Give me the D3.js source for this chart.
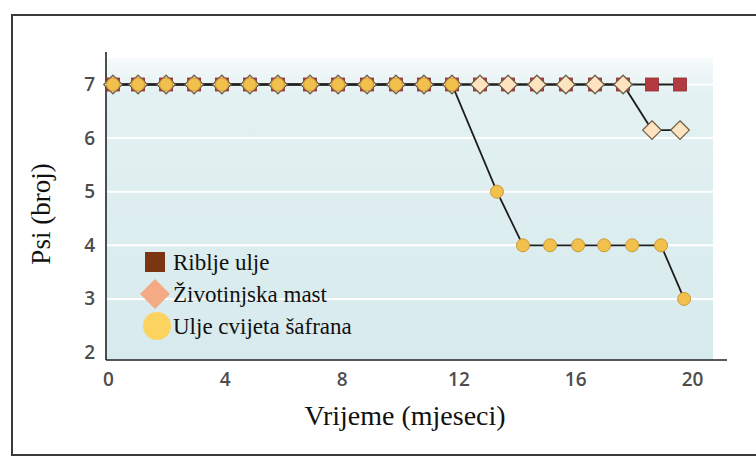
<!DOCTYPE html>
<html>
<head>
<meta charset="utf-8">
<script src="https://cdn.jsdelivr.net/npm/d3@7"></script>
<style>
  html, body { margin: 0; padding: 0; background: #ffffff; }
  svg { display: block; }
  .serif { font-family: "Liberation Serif", "Times New Roman", "DejaVu Serif", serif; }
  .tick text { font-family: "Open Sans", "Liberation Sans", sans-serif; }
</style>
</head>
<body>
<svg id="chart" width="756" height="461"></svg>
<script>
// ---- data ----
const xTickValues = [0, 4, 8, 12, 16, 20];
const yTickValues = [2, 3, 4, 5, 6, 7];
const gridValues = [3, 4, 5, 6, 7];

const seriesNames = ["Riblje ulje", "Životinjska mast", "Ulje cvijeta šafrana"];

// Fish oil (squares)
const fishOilMonths = [0.17, 1.03, 1.99, 2.95, 3.90, 4.86, 5.82, 6.92, 7.88, 8.87, 9.86, 10.82, 11.78, 12.74, 13.70, 14.69, 15.68, 16.68, 17.64, 18.63, 19.59];
const fishOilDogs   = [7, 7, 7, 7, 7, 7, 7, 7, 7, 7, 7, 7, 7, 7, 7, 7, 7, 7, 7, 7, 7];

// Animal fat (diamonds)
const animalFatMonths = [0.17, 1.03, 1.99, 2.95, 3.90, 4.86, 5.82, 6.92, 7.88, 8.87, 9.86, 10.82, 11.78, 12.74, 13.70, 14.69, 15.68, 16.68, 17.64, 18.63, 19.59];
const animalFatDogs   = [7, 7, 7, 7, 7, 7, 7, 7, 7, 7, 7, 7, 7, 7, 7, 7, 7, 7, 7, 6.15, 6.15];

// Safflower oil (circles)
const safflowerMonths = [0.17, 1.03, 1.99, 2.95, 3.90, 4.86, 5.82, 6.92, 7.88, 8.87, 9.86, 10.82, 11.78, 13.32, 14.21, 15.14, 16.10, 16.99, 17.95, 18.94, 19.73];
const safflowerDogs   = [7, 7, 7, 7, 7, 7, 7, 7, 7, 7, 7, 7, 7, 5, 4, 4, 4, 4, 4, 4, 3];

const xTitle = "Vrijeme (mjeseci)";
const yTitle = "Psi (broj)";

// ---- drawing ----
const svg = d3.select("#chart");

const x = d3.scaleLinear().domain([0, 20]).range([108, 692]);
const y = d3.scaleLinear().domain([2, 7]).range([352.5, 84.5]);

const panel = { left: 106, right: 713, top: 58, bottom: 360 };

// outer frame
svg.append("rect")
  .attr("x", 12).attr("y", 15).attr("width", 800).attr("height", 440)
  .attr("fill", "none").attr("stroke", "#3a3a3a").attr("stroke-width", 2);

const defs = svg.append("defs");
const grad = defs.append("linearGradient").attr("id", "bg").attr("x1", 0).attr("y1", 0).attr("x2", 0).attr("y2", 1);
grad.append("stop").attr("offset", "0%").attr("stop-color", "#f6fafa");
grad.append("stop").attr("offset", "12%").attr("stop-color", "#e3f1f2");
grad.append("stop").attr("offset", "100%").attr("stop-color", "#d7eaed");

svg.append("rect")
  .attr("x", panel.left).attr("y", panel.top)
  .attr("width", panel.right - panel.left).attr("height", panel.bottom - panel.top)
  .attr("fill", "url(#bg)");

// gridlines
svg.append("g").selectAll("line").data(gridValues).join("line")
  .attr("x1", panel.left).attr("x2", panel.right)
  .attr("y1", d => y(d)).attr("y2", d => y(d))
  .attr("stroke", "#ffffff").attr("stroke-width", 2);

// axes
const xAxis = d3.axisBottom(x).tickValues(xTickValues).tickSize(0).tickPadding(13).tickFormat(d3.format("d"));
const gx = svg.append("g").attr("transform", `translate(0,${panel.bottom})`).call(xAxis);
gx.select(".domain").remove();
gx.selectAll("text").attr("font-size", 19).attr("font-weight", 600).attr("fill", "#4d4d4d");

const yAxis = d3.axisLeft(y).tickValues(yTickValues).tickSize(0).tickPadding(11).tickFormat(d3.format("d"));
const gy = svg.append("g").attr("transform", `translate(${panel.left},0)`).call(yAxis);
gy.select(".domain").remove();
gy.selectAll("text").attr("font-size", 19).attr("font-weight", 600).attr("fill", "#4d4d4d");

// axis lines
svg.append("line").attr("x1", panel.left).attr("x2", panel.left).attr("y1", 52).attr("y2", panel.bottom)
  .attr("stroke", "#222").attr("stroke-width", 1.6);
svg.append("line").attr("x1", panel.left).attr("x2", 727).attr("y1", panel.bottom).attr("y2", panel.bottom)
  .attr("stroke", "#222").attr("stroke-width", 1.6);

// series lines
const line = d3.line().x(d => x(d[0])).y(d => y(d[1]));
const fish = d3.zip(fishOilMonths, fishOilDogs);
const fat = d3.zip(animalFatMonths, animalFatDogs);
const saff = d3.zip(safflowerMonths, safflowerDogs);

[fish, fat, saff].forEach(s => {
  svg.append("path").datum(s).attr("d", line)
    .attr("fill", "none").attr("stroke", "#1e1e1e").attr("stroke-width", 1.8);
});

// markers
const sq = 13;
svg.append("g").selectAll("rect").data(fish).join("rect")
  .attr("x", d => x(d[0]) - sq / 2).attr("y", d => y(d[1]) - sq / 2)
  .attr("width", sq).attr("height", sq)
  .attr("fill", "#b23a40").attr("stroke", "#8e2c33").attr("stroke-width", 0.8);

const dia = d3.symbol().type(d3.symbolDiamond2).size(220);
svg.append("g").selectAll("path").data(fat).join("path")
  .attr("transform", d => `translate(${x(d[0])},${y(d[1])})`)
  .attr("d", dia)
  .attr("fill", "#fde3bf").attr("stroke", "#6e5b42").attr("stroke-width", 1.2);

svg.append("g").selectAll("circle").data(saff).join("circle")
  .attr("cx", d => x(d[0])).attr("cy", d => y(d[1])).attr("r", 6.5)
  .attr("fill", "#f2c04c").attr("stroke", "#c99a36").attr("stroke-width", 1);

// legend
const legendColors = ["#7b3511", "#f4aa85", "#fdd35f"];
const legendShapes = ["square", "diamond", "circle"];
const lg = svg.append("g");
const rowY = [262, 294, 326];
seriesNames.forEach((name, i) => {
  const cy = rowY[i];
  if (legendShapes[i] === "square") {
    lg.append("rect").attr("x", 145).attr("y", cy - 10).attr("width", 20).attr("height", 20)
      .attr("fill", legendColors[i]);
  } else if (legendShapes[i] === "diamond") {
    lg.append("path").attr("d", `M155,${cy - 15} L170,${cy} L155,${cy + 15} L140,${cy} Z`)
      .attr("fill", legendColors[i]);
  } else {
    lg.append("circle").attr("cx", 157).attr("cy", cy).attr("r", 14).attr("fill", legendColors[i]);
  }
  lg.append("text").attr("class", "serif").attr("x", 173).attr("y", cy + 8)
    .attr("font-size", 23).attr("fill", "#111").text(name);
});

// titles
svg.append("text").attr("class", "serif").attr("x", 405).attr("y", 425).attr("text-anchor", "middle")
  .attr("font-size", 28).attr("fill", "#111").text(xTitle);

svg.append("text").attr("class", "serif").attr("transform", "translate(50,214) rotate(-90)").attr("text-anchor", "middle")
  .attr("font-size", 27).attr("fill", "#111").text(yTitle);
</script>
</body>
</html>
